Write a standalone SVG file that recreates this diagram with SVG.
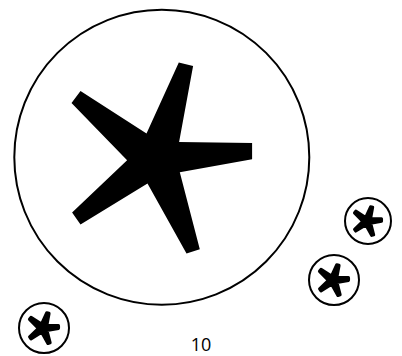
<svg xmlns="http://www.w3.org/2000/svg" xmlns:xlink="http://www.w3.org/1999/xlink" width="402" height="356" viewBox="0 0 402 356">
<style>
.ring{fill:#fff;stroke:#000;stroke-width:2}
.star{fill:#000}
.small{stroke:#000;stroke-width:20;stroke-linejoin:round}
.lbl{font-family:"Open Sans","Liberation Sans",sans-serif;font-size:18px;fill:#000}
</style>
<defs>
<path id="star" d="M17,-94.7 L31.3,-91.3 L17.3,-15.3 L90.3,-14.3 L90.3,2 L18,15 L38,92 L24.7,96.3 L-14.3,26.3 L-81.3,67.3 L-89.7,55.3 L-34.7,3 L-90.3,-54.3 L-81.3,-66.3 L-15.3,-23.7 Z"/>
</defs>
<rect width="402" height="356" fill="#fff"/>
<g id="main">
<circle class="ring" cx="161.8" cy="157.2" r="147.5"/>
<use xlink:href="#star" class="star" transform="translate(161.8,157.2)"/>
</g>
<g id="iconA">
<circle class="ring" cx="368" cy="221" r="23"/>
<use xlink:href="#star" class="star small" transform="translate(368,221) scale(0.15)"/>
</g>
<g id="iconB">
<circle class="ring" cx="334" cy="280" r="25"/>
<use xlink:href="#star" class="star small" transform="translate(334,280) scale(0.16)"/>
</g>
<g id="iconC">
<circle class="ring" cx="44" cy="328" r="25"/>
<use xlink:href="#star" class="star small" transform="translate(44,328) scale(0.16)"/>
</g>
<g id="connectors"/>
<text class="lbl" x="201" y="351" text-anchor="middle">10</text>
</svg>
